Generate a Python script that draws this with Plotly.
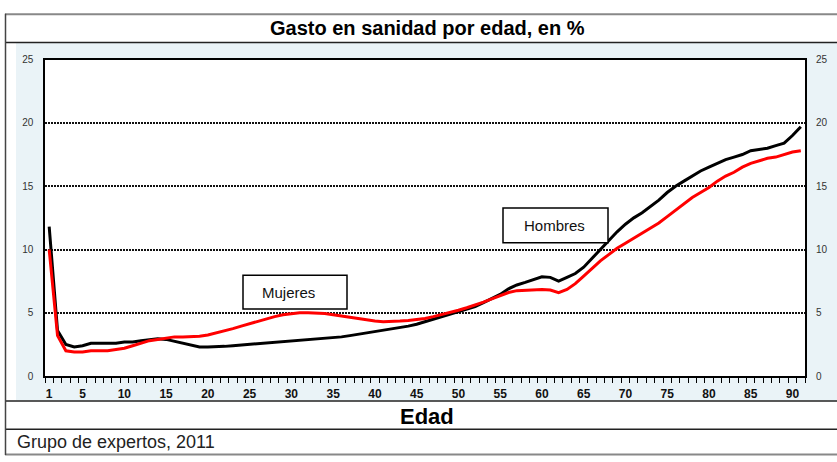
import plotly.graph_objects as go

# ---- data ----
ages = list(range(1, 92))
hombres = [11.8, 3.6, 2.5, 2.3, 2.4, 2.6, 2.6, 2.6, 2.6, 2.7,
           2.7, 2.8, 2.9, 2.95, 2.9, 2.75, 2.55, 2.4, 2.3, 2.3,
           2.3, 2.35, 2.4, 2.45, 2.5, 2.55, 2.6, 2.65, 2.7, 2.75,
           2.8, 2.85, 2.9, 2.95, 3.0, 3.1, 3.2, 3.3, 3.4, 3.5,
           3.6, 3.7, 3.85, 3.95, 4.1, 4.3, 4.5, 4.65, 4.85, 5.05,
           5.25, 5.5, 5.8, 6.1, 6.45, 6.9, 7.2, 7.4, 7.6, 7.85,
           7.8, 7.5, 7.8, 8.1, 8.6, 9.3, 10.0, 10.7, 11.4, 12.0,
           12.5, 12.9, 13.4, 13.9, 14.5, 15.0, 15.4, 15.8, 16.2, 16.5,
           16.8, 17.1, 17.3, 17.5, 17.8, 17.9, 18.0, 18.2, 18.4, 19.0,
           19.7]
mujeres = [10.0, 3.2, 2.0, 1.9, 1.9, 2.0, 2.0, 2.0, 2.1, 2.2,
           2.4, 2.6, 2.8, 2.9, 3.0, 3.1, 3.1, 3.1, 3.15, 3.25,
           3.4, 3.55, 3.75, 3.95, 4.15, 4.35, 4.55, 4.7, 4.85, 4.95,
           5.0, 5.0, 5.0, 4.95, 4.85, 4.75, 4.6, 4.5, 4.4, 4.35,
           4.3, 4.3, 4.35, 4.4, 4.45, 4.55, 4.7, 4.85, 5.0, 5.2,
           5.4, 5.6, 5.85, 6.1, 6.35, 6.6, 6.75, 6.8, 6.85, 6.85,
           6.8, 6.6, 6.85, 7.3, 7.9, 8.5, 9.1, 9.6, 10.1, 10.5,
           10.9, 11.3, 11.7, 12.1, 12.6, 13.1, 13.6, 14.1, 14.5, 14.9,
           15.4, 15.8, 16.1, 16.5, 16.8, 17.0, 17.2, 17.3, 17.5, 17.7,
           17.8]
x_ticks = [1, 5, 10, 15, 20, 25, 30, 35, 40, 45, 50, 55, 60, 65, 70, 75, 80, 85, 90]
y_ticks = [0, 5, 10, 15, 20, 25]

title_text = "Gasto en sanidad por edad, en %"
x_title = "Edad"
source_text = "Grupo de expertos, 2011"
label_h = "Hombres"
label_m = "Mujeres"

W, H = 837, 462
def px(x):
    return x / W
def py(y):
    return (H - y) / H

fig = go.Figure()
fig.add_trace(go.Scatter(x=ages, y=hombres, mode="lines", name=label_h,
                         line=dict(color="#000000", width=3), showlegend=False))
fig.add_trace(go.Scatter(x=ages, y=mujeres, mode="lines", name=label_m, yaxis="y2",
                         line=dict(color="#FF0000", width=3), showlegend=False))

shapes = []
# light blue chart band
shapes.append(dict(type="rect", xref="paper", yref="paper", x0=px(16), x1=px(840),
                   y0=py(405), y1=py(37.5), fillcolor="#EAF3F7", line=dict(width=0), layer="below"))
shapes.append(dict(type="rect", xref="paper", yref="paper", x0=px(45), x1=px(805),
                   y0=py(380), y1=py(55), fillcolor="#FFFFFF", line=dict(width=0), layer="below"))
# frame lines
def hline(y, color="#000000", w=1.5):
    shapes.append(dict(type="line", xref="paper", yref="paper", x0=px(5), x1=px(840),
                       y0=py(y), y1=py(y), line=dict(color=color, width=w)))
hline(8.5, "#888888", 2)
hline(37.5, "#222222", 1.5)
hline(405.5, "#222222", 1.5)
hline(434.5, "#222222", 1.5)
hline(460.5, "#888888", 2)
shapes.append(dict(type="line", xref="paper", yref="paper", x0=px(5.5), x1=px(5.5),
                   y0=py(8), y1=py(461), line=dict(color="#444444", width=1.5)))
# annotation boxes
shapes.append(dict(type="rect", xref="paper", yref="paper", x0=px(243), x1=px(347),
                   y0=py(311), y1=py(276.5), line=dict(color="#000000", width=1.5),
                   fillcolor="#FFFFFF"))
shapes.append(dict(type="rect", xref="paper", yref="paper", x0=px(503), x1=px(608),
                   y0=py(243), y1=py(207.5), line=dict(color="#000000", width=1.5),
                   fillcolor="#FFFFFF"))

annotations = [
    dict(text="<b>" + title_text + "</b>", xref="paper", yref="paper", x=px(427), y=py(23),
         showarrow=False, font=dict(size=20, color="#000000", family="Liberation Sans, Arial"),
         xanchor="center", yanchor="middle"),
    dict(text="<b>" + x_title + "</b>", xref="paper", yref="paper", x=px(427), y=py(421),
         showarrow=False, font=dict(size=22, color="#000000", family="Liberation Sans, Arial"),
         xanchor="center", yanchor="middle"),
    dict(text=source_text, xref="paper", yref="paper", x=px(15), y=py(448),
         showarrow=False, font=dict(size=18, color="#222222", family="Liberation Sans, Arial"),
         xanchor="left", yanchor="middle"),
    dict(text=label_m, xref="paper", yref="paper", x=px(288), y=py(294),
         showarrow=False, font=dict(size=15, color="#111111", family="Liberation Sans, Arial"),
         xanchor="center", yanchor="middle"),
    dict(text=label_h, xref="paper", yref="paper", x=px(554), y=py(225),
         showarrow=False, font=dict(size=15, color="#111111", family="Liberation Sans, Arial"),
         xanchor="center", yanchor="middle"),
]

fig.update_layout(
    width=W, height=H,
    margin=dict(l=0, r=0, t=0, b=0),
    paper_bgcolor="#FFFFFF",
    plot_bgcolor="#FFFFFF",
    showlegend=False,
    shapes=shapes,
    annotations=annotations,
    xaxis=dict(
        domain=[px(45), px(805)],
        range=[0.5, 91.5],
        tickmode="array", tickvals=x_ticks, ticktext=[str(v) for v in x_ticks],
        ticks="", showgrid=False, zeroline=False,
        showline=True, linecolor="#000000", linewidth=1.5, mirror=True,
        tickfont=dict(size=12, color="#111111", family="Liberation Sans, Arial", weight="bold"),
        ticklabelstandoff=6,
        minor=dict(ticks="outside", tick0=0.5, dtick=1, ticklen=5, tickwidth=1, tickcolor="#000000"),
    ),
    yaxis=dict(
        domain=[py(380), py(55)],
        range=[0, 25],
        tickmode="array", tickvals=y_ticks,
        ticks="", showgrid=True, gridcolor="#111111", gridwidth=1.5, griddash="2px,1px",
        zeroline=False,
        showline=True, linecolor="#000000", linewidth=1.5, mirror=True,
        tickfont=dict(size=10, color="#333333", family="Liberation Sans, Arial"),
        ticklabelstandoff=8,
    ),
    yaxis2=dict(
        domain=[py(380), py(55)],
        range=[0, 25], overlaying="y", side="right", anchor="x",
        tickmode="array", tickvals=y_ticks,
        ticks="", showgrid=False, zeroline=False, showline=False,
        tickfont=dict(size=10, color="#333333", family="Liberation Sans, Arial"),
        ticklabelstandoff=10,
    ),
)

post = (
    "var s=document.documentElement.style;s.margin='0';s.padding='0';s.overflow='hidden';"
    "var b=document.body.style;b.margin='0';b.padding='0';b.overflow='hidden';"
)
fig.write_html("out.html", config={"displayModeBar": False}, post_script=post)
